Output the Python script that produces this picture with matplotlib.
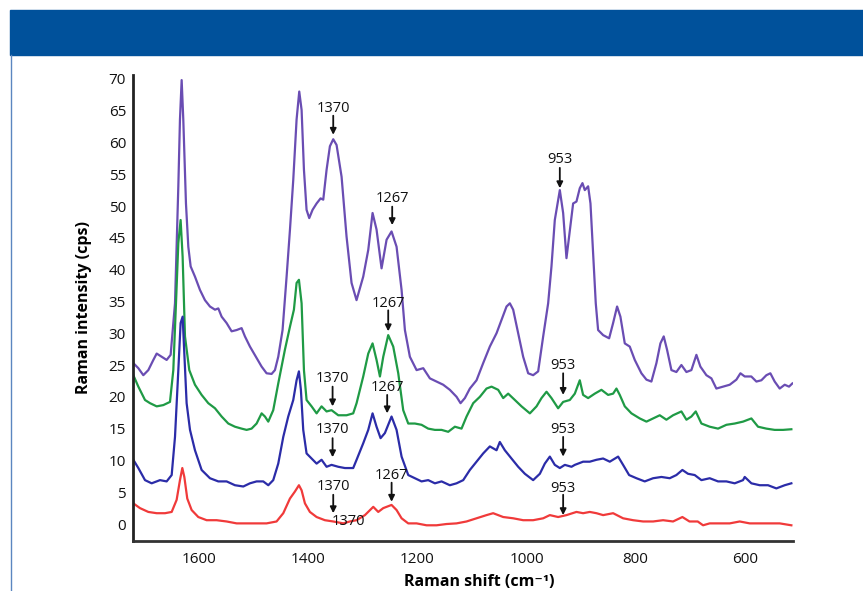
import matplotlib
matplotlib.use("Agg")
import matplotlib.pyplot as plt
from matplotlib.patches import Rectangle
from matplotlib.lines import Line2D

plt.rcParams['font.family'] = ['Open Sans', 'DejaVu Sans']

# ---------------- data ----------------
purple_x = [1720.9, 1711.7, 1702.6, 1693.4, 1684.2, 1678.1, 1669.0, 1659.8, 1652.5, 1644.5,
            1638.4, 1635.4, 1632.3, 1629.3, 1624.4, 1620.1, 1615.8, 1607.9, 1598.7, 1589.6,
            1580.4, 1571.2, 1565.1, 1559.0, 1549.9, 1540.7, 1531.5, 1522.4, 1516.3, 1507.1,
            1494.9, 1485.7, 1476.6, 1467.4, 1461.3, 1455.2, 1447.3, 1439.9, 1433.8, 1427.7,
            1421.6, 1416.7, 1412.4, 1408.1, 1403.3, 1398.4, 1392.3, 1384.9, 1377.6, 1372.7,
            1366.6, 1360.5, 1354.4, 1348.3, 1339.1, 1330.0, 1320.8, 1311.7,
            1299.4, 1290.2, 1282.3, 1275.0, 1265.8, 1256.6, 1247.5, 1238.3, 1229.1, 1223.0,
            1213.9, 1201.6, 1189.4, 1177.2, 1165.0, 1152.8, 1140.6, 1128.3, 1121.0, 1113.1,
            1103.9, 1091.7, 1079.5, 1067.3, 1055.0, 1045.9, 1036.7, 1030.6, 1024.5, 1015.3,
            1006.2, 997.0, 987.9, 978.7, 969.5, 960.4, 954.3, 948.2, 939.0, 932.9, 926.8,
            914.6, 908.5, 902.4, 897.5, 893.2, 887.1, 882.8, 878.0, 873.1, 868.8, 859.6,
            848.6, 841.3, 834.0, 827.9, 819.9, 810.8, 801.6, 789.4, 780.2, 771.1, 761.9,
            754.6, 748.5, 742.4, 734.4, 725.3, 716.1, 706.9, 697.8, 688.6, 681.3, 670.3,
            661.1, 652.0, 639.7, 627.5, 615.3, 607.9, 600.0, 588.0, 578.6, 569.5, 560.3,
            553.0, 545.1, 535.9, 526.7, 518.8, 512.7]
purple_y = [25.3, 24.5, 23.4, 24.2, 25.8, 26.8, 26.3, 25.8, 26.6, 34.7,
            53.1, 63.6, 69.8, 63.6, 50.4, 43.6, 40.5, 38.9, 36.8, 35.2,
            34.2, 33.7, 33.9, 32.6, 31.6, 30.3, 30.5, 30.8, 29.5, 27.9,
            26.1, 24.75, 23.7, 23.6, 24.2, 26.3, 30.5, 38.9, 46.2, 54.1,
            63.6, 68.0, 65.1, 55.7, 49.4, 48.1, 49.4, 50.4, 51.2, 51.0,
            55.7, 59.4, 60.5, 59.6, 54.6, 45.2, 37.9, 35.2,
            38.9, 43.1, 48.9, 46.3, 40.2, 44.7, 46.0, 43.6, 36.8, 30.5,
            26.3, 24.2, 24.5, 22.9, 22.4, 21.9, 21.1, 20.0, 19.0, 19.8,
            21.3, 22.6, 25.3, 27.9, 30.0, 32.1, 34.2, 34.7, 33.7, 30.0,
            26.3, 23.7, 23.4, 24.0, 29.5, 34.7, 40.5, 47.8, 52.5, 48.9, 41.8,
            50.4, 50.7, 52.8, 53.6, 52.5, 53.1, 50.4, 42.6, 34.7, 30.5, 29.7,
            29.2, 31.6, 34.2, 32.6, 28.4, 27.9, 25.8, 23.7, 22.7, 22.4, 25.3,
            28.4, 29.5, 27.4, 24.2, 23.9, 25.0, 23.9, 24.2, 26.6, 24.75, 23.4,
            22.9, 21.3, 21.6, 21.9, 22.7, 23.7, 23.2, 23.2, 22.4, 22.6, 23.4,
            23.7, 22.4, 21.3, 21.9, 21.6, 22.1]

green_x = [1720.9, 1711.7, 1699.5, 1690.3, 1678.1, 1665.9, 1653.7, 1647.6, 1642.7, 1638.4,
           1634.2, 1630.5, 1626.2, 1618.3, 1607.9, 1595.7, 1583.5, 1571.2, 1559.0, 1546.8,
           1534.6, 1522.4, 1513.2, 1504.1, 1494.9, 1485.7, 1479.6, 1473.5, 1464.4, 1455.2,
           1443.0, 1433.8, 1426.5, 1421.6, 1417.3, 1412.4, 1408.1, 1403.3, 1394.1, 1384.9,
           1375.8, 1366.6, 1357.5, 1345.2, 1330.0, 1317.8,
           1311.6, 1299.4, 1290.2, 1282.3, 1275.0, 1268.8, 1262.7, 1253.6, 1244.4, 1235.2,
           1226.1, 1216.9, 1204.7, 1192.5, 1180.3, 1168.0, 1155.8, 1143.6, 1131.4, 1119.2,
           1110.0, 1097.8, 1085.6, 1073.4, 1064.2, 1052.0, 1042.8, 1033.7, 1021.4, 1009.2,
           993.9, 981.7, 972.6, 963.4, 954.3, 942.1, 932.9, 920.7,
           911.5, 902.4, 896.3, 887.1, 874.9, 862.7, 850.5, 841.3, 835.2, 829.1, 819.9,
           807.7, 792.4, 780.2, 768.0, 755.8, 743.6, 731.4, 716.1, 706.9, 697.8, 689.8,
           679.4, 664.2, 648.9, 633.6, 618.4, 603.1, 587.8, 575.6, 560.3, 545.1, 529.8, 514.5]
green_y = [23.4, 21.6, 19.5, 19.0, 18.5, 18.7, 19.2, 24.2, 34.7, 44.2,
           47.8, 42.0, 29.5, 24.2, 21.9, 20.3, 19.0, 18.2, 16.9, 15.8,
           15.3, 15.0, 14.8, 15.0, 15.8, 17.4, 16.9, 16.1, 17.9, 22.1,
           27.4, 31.0, 33.7, 37.9, 38.4, 34.7, 24.2, 19.5, 18.5, 17.4,
           18.5, 17.7, 17.9, 17.1, 17.1, 17.4,
           19.0, 23.2, 26.8, 28.4, 25.8, 23.2, 26.3, 29.7, 27.9, 23.7,
           17.9, 15.8, 15.8, 15.6, 15.0, 14.8, 14.8, 14.5, 15.3, 15.0,
           16.9, 19.0, 20.0, 21.3, 21.6, 21.1, 19.8, 20.5, 19.5, 18.5,
           17.4, 18.5, 19.8, 20.8, 19.8, 18.2, 19.2, 19.5,
           20.5, 22.6, 20.3, 19.8, 20.5, 21.1, 20.3, 20.5, 21.3, 20.3, 18.5,
           17.4, 16.6, 16.1, 16.6, 17.1, 16.4, 17.1, 17.7, 16.4, 16.9, 17.7,
           15.8, 15.3, 15.0, 15.6, 15.8, 16.1, 16.6, 15.3, 15.0, 14.8, 14.8, 14.9]

blue_x = [1720.9, 1711.7, 1699.5, 1687.3, 1672.0, 1659.8, 1650.6, 1644.5, 1638.4, 1634.2,
          1630.5, 1627.4, 1623.2, 1617.0, 1607.9, 1595.7, 1580.4, 1565.1, 1549.9, 1534.6,
          1519.3, 1507.1, 1494.9, 1482.7, 1473.5, 1464.4, 1455.2, 1446.0, 1436.9, 1427.7,
          1421.6, 1417.3, 1413.7, 1409.4, 1403.3, 1394.1, 1384.9, 1375.8, 1366.6, 1357.5,
          1345.2, 1333.0, 1317.8,
          1311.6, 1299.4, 1290.2, 1282.3, 1275.0, 1267.6, 1259.7, 1247.5, 1238.3, 1229.1,
          1216.9, 1204.7, 1192.5, 1180.3, 1168.0, 1155.8, 1140.6, 1128.3, 1116.1, 1103.9,
          1091.7, 1079.5, 1067.3, 1055.0, 1049.0, 1039.8, 1027.6, 1015.3, 1003.1, 987.9,
          975.6, 966.5, 957.3, 948.2, 939.0, 929.8, 917.6,
          911.5, 896.3, 884.1, 871.8, 859.6, 847.4, 832.1, 823.0, 812.0, 798.5, 783.3,
          768.0, 752.7, 737.5, 725.3, 714.3, 704.0, 691.7, 679.4, 664.2, 648.9, 633.6,
          618.4, 603.1, 600.0, 587.8, 572.5, 557.3, 542.0, 526.7, 514.5]
blue_y = [10.1, 8.8, 6.9, 6.4, 6.9, 6.7, 7.7, 13.7, 24.2, 31.6,
          32.6, 26.8, 19.0, 14.8, 11.6, 8.5, 7.2, 6.7, 6.7, 6.1,
          5.9, 6.4, 6.7, 6.7, 6.1, 6.9, 9.5, 13.7, 16.9, 19.5,
          22.6, 24.0, 21.1, 14.8, 11.1, 10.3, 9.5, 10.1, 9.0, 9.3,
          9.0, 8.8, 8.8,
          10.1, 12.7, 14.8, 17.4, 15.3, 13.5, 14.3, 16.9, 14.8, 10.6,
          7.7, 7.2, 6.7, 6.9, 6.4, 6.7, 6.1, 6.4, 6.9, 8.5,
          9.8, 11.1, 12.2, 11.6, 12.9, 11.6, 10.3, 9.0, 7.9, 6.9,
          7.9, 9.5, 10.6, 9.3, 8.8, 9.3, 9.0,
          9.3, 9.8, 9.8, 10.1, 10.3, 9.8, 10.6, 9.3, 7.7, 7.2, 6.7,
          7.2, 7.4, 7.2, 7.7, 8.5, 7.9, 7.7, 6.9, 7.2, 6.7, 6.7,
          6.4, 6.9, 7.4, 6.4, 6.1, 6.1, 5.6, 6.1, 6.4]

red_x = [1720.9, 1708.7, 1693.4, 1678.1, 1662.8, 1650.6, 1641.5, 1635.4, 1631.1, 1627.4,
         1622.0, 1614.0, 1601.8, 1586.5, 1568.2, 1549.9, 1531.5, 1513.2, 1494.9, 1476.6,
         1458.3, 1446.0, 1433.8, 1424.7, 1417.3, 1412.4, 1406.3, 1397.2, 1384.9, 1369.7,
         1354.4, 1336.0, 1323.9,
         1311.6, 1296.3, 1281.0, 1271.9, 1262.7, 1247.5, 1238.3, 1229.1, 1216.9, 1201.6,
         1183.3, 1165.0, 1146.7, 1128.3, 1110.0, 1091.7, 1073.4, 1061.2, 1042.8, 1024.5,
         1006.2, 987.9, 969.5, 957.3, 942.1, 926.8,
         908.5, 896.3, 884.1, 871.8, 859.6, 841.3, 823.0, 804.6, 786.3, 768.0, 749.7,
         731.4, 714.3, 701.3, 686.2, 676.4, 664.2, 645.9, 627.5, 609.2, 590.9, 572.5,
         554.2, 535.9, 514.5]
red_y = [3.25, 2.5, 1.9, 1.7, 1.7, 1.9, 3.8, 6.9, 8.8, 7.4,
         4.0, 2.2, 1.1, 0.6, 0.6, 0.4, 0.1, 0.1, 0.1, 0.1,
         0.4, 1.7, 4.0, 5.1, 6.1, 5.3, 3.25, 1.9, 1.1, 0.6,
         0.4, 0.1, 0.4,
         0.6, 1.4, 2.7, 1.9, 2.5, 3.0, 2.2, 0.9, 0.1, 0.1,
         -0.2, -0.2, 0.0, 0.1, 0.4, 0.9, 1.4, 1.7, 1.1, 0.9,
         0.6, 0.6, 0.9, 1.4, 1.1, 1.4,
         1.9, 1.7, 1.9, 1.7, 1.4, 1.7, 0.9, 0.6, 0.4, 0.4, 0.6,
         0.4, 1.1, 0.4, 0.4, -0.2, 0.1, 0.1, 0.1, 0.4, 0.1, 0.1,
         0.1, 0.1, -0.2]

# annotations: label, text x, text y, arrow tail y, arrow tip y
ann_labels = ["1370", "1267", "953",
              "1267", "1370", "953",
              "1267", "1370", "953",
              "1267", "1370", "953"]
ann_x = [1354.4, 1246.3, 939.0,
         1253.6, 1355.6, 932.9,
         1255.5, 1355.6, 932.9,
         1247.4, 1354.4, 932.9]
ann_text_y = [65.4, 51.2, 57.3,
              34.7, 22.9, 24.9,
              21.5, 14.8, 14.9,
              7.7, 5.9, 5.6]
ann_tail_y = [64.2, 49.9, 56.0,
              33.6, 21.6, 23.7,
              20.3, 13.5, 13.7,
              6.5, 4.6, 4.6]
ann_tip_y = [61.2, 47.0, 52.8,
             30.3, 18.5, 20.3,
             17.4, 10.5, 10.6,
             3.5, 1.7, 1.4]
stray_label = "1370"
stray_x, stray_y = 1327.0, 0.4

x_ticks = [1600, 1400, 1200, 1000, 800, 600]
y_ticks = [0, 5, 10, 15, 20, 25, 30, 35, 40, 45, 50, 55, 60, 65, 70]

# ---------------- figure ----------------
W, H = 863, 591
fig = plt.figure(figsize=(W / 100, H / 100), dpi=100)

# header bar and frame line
fig.patches.append(Rectangle((10 / W, 1 - 55 / H), 1 - 10 / W, 45 / H,
                             transform=fig.transFigure, color="#00519B", zorder=0))
fig.lines.append(Line2D([10.5 / W, 10.5 / W], [0, 1 - 55 / H], transform=fig.transFigure,
                        color="#5b86c0", lw=1.0))

ax = fig.add_axes([133 / W, 1 - 541 / H, (793 - 133) / W, (541 - 75) / H])

lw = 1.6
ax.plot(purple_x, purple_y, color="#6a4db3", lw=lw)
ax.plot(green_x, green_y, color="#1f9a45", lw=lw)
ax.plot(blue_x, blue_y, color="#2b2ca8", lw=lw)
ax.plot(red_x, red_y, color="#f03a3a", lw=lw)

for lab, x, ty, t0, t1 in zip(ann_labels, ann_x, ann_text_y, ann_tail_y, ann_tip_y):
    ax.text(x, ty, lab, ha="center", va="center", fontsize=10.5, color="#111111")
    ax.annotate("", xy=(x, t1), xytext=(x, t0),
                arrowprops=dict(arrowstyle="-|>", color="#111111", lw=1.3,
                                mutation_scale=9, shrinkA=0, shrinkB=0))
ax.text(stray_x, stray_y, stray_label, ha="center", va="center", fontsize=10.5, color="#111111")

ax.set_xlim(1721.5, 511.5)
ax.set_ylim(-2.67, 70.6)
ax.set_xticks(x_ticks)
ax.set_yticks(y_ticks)
ax.tick_params(axis="both", length=0, labelsize=11, colors="#111111")
ax.tick_params(axis="y", pad=5)
ax.tick_params(axis="x", pad=8)

for s in ["top", "right"]:
    ax.spines[s].set_visible(False)
ax.spines["left"].set_linewidth(2.0)
ax.spines["bottom"].set_linewidth(2.0)
ax.spines["left"].set_color("#222222")
ax.spines["bottom"].set_color("#333333")

ax.set_xlabel("Raman shift (cm\u207b\u00b9)", fontsize=11.5, fontweight="bold")
ax.xaxis.set_label_coords(0.525, -0.07)
ax.set_ylabel("Raman intensity (cps)", fontsize=11.5, fontweight="bold", labelpad=12)

fig.savefig("out.png", dpi=100)
